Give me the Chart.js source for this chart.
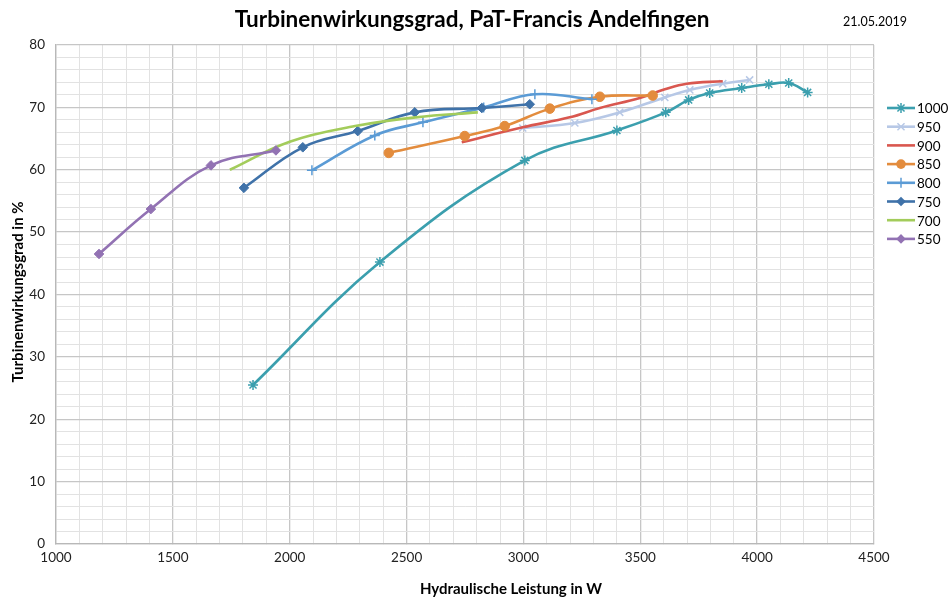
<!DOCTYPE html>
<html>
<head>
<meta charset="utf-8">
<script src="https://cdn.jsdelivr.net/npm/chart.js@4.4.1/dist/chart.umd.min.js"></script>
<style>
  html, body { margin: 0; padding: 0; background: #fff; }
  #wrap { width: 948px; height: 597px; position: relative; }
</style>
</head>
<body>
<div id="wrap"><canvas id="tsChart"></canvas></div>
<script>
// series labels (legend order)
const seriesNames = ["1000", "950", "900", "850", "800", "750", "700", "550"];

// Hydraulische Leistung (W) / Wirkungsgrad (%) per series
const p1000 = [1843, 2386, 3006, 3400, 3609, 3707, 3797, 3934, 4050, 4135, 4216];
const e1000 = [25.5, 45.2, 61.5, 66.3, 69.2, 71.2, 72.3, 73.1, 73.7, 73.9, 72.4];

const p950 = [2997, 3220, 3412, 3605, 3712, 3853, 3968];
const e950 = [66.7, 67.5, 69.2, 71.6, 72.8, 73.8, 74.4];

const p900 = [2736, 2997, 3198, 3327, 3498, 3605, 3699, 3853];
const e900 = [64.4, 66.8, 68.4, 69.9, 71.5, 72.9, 73.8, 74.2];

const p850 = [2424, 2749, 2920, 3113, 3327, 3553];
const e850 = [62.7, 65.4, 67.0, 69.8, 71.7, 71.9];

const p800 = [2095, 2364, 2570, 2830, 3049, 3293];
const e800 = [59.9, 65.5, 67.6, 70.0, 72.1, 71.3];

const p750 = [1804, 2056, 2291, 2535, 2822, 3027];
const e750 = [57.1, 63.6, 66.2, 69.2, 69.9, 70.5];

const p700 = [1744, 2000, 2280, 2540, 2805];
const e700 = [60.0, 64.5, 67.0, 68.4, 69.2];

const p550 = [1184, 1406, 1663, 1941];
const e550 = [46.5, 53.7, 60.7, 63.1];

const xTicks = [1000, 1500, 2000, 2500, 3000, 3500, 4000, 4500];
const yTicks = [0, 10, 20, 30, 40, 50, 60, 70, 80];

const powers = [p1000, p950, p900, p850, p800, p750, p700, p550];
const effs = [e1000, e950, e900, e850, e800, e750, e700, e550];

const colors = ["#3b9fae", "#b7c8e6", "#d9574f", "#e38c3d", "#5b9bd5", "#3f72a9", "#a3cc5b", "#9272b3"];
const markers = ["star", "crossRot", false, "circle", "cross", "rectRot", false, "rectRot"];
const markerSize = [5, 5, 0, 4.8, 5, 4.8, 0, 4.8];

const FONT = "Lato, 'Open Sans', sans-serif";

const datasets = seriesNames.map((name, i) => ({
  label: name,
  data: powers[i].map((x, k) => ({ x: x, y: effs[i][k] })),
  borderColor: colors[i],
  backgroundColor: colors[i],
  borderWidth: 2.6,
  tension: 0.4,
  pointStyle: markers[i],
  pointRadius: markerSize[i],
  pointBorderWidth: (markers[i] === "star" || markers[i] === "cross" || markers[i] === "crossRot") ? 1.5 : 1,
  pointBorderColor: colors[i],
  pointBackgroundColor: colors[i],
  order: seriesNames.length - i
}));

function drawMarker(c, style, r, x, y) {
  c.beginPath();
  if (style === "circle") {
    c.arc(x, y, r, 0, Math.PI * 2);
    c.fill();
  } else if (style === "rectRot") {
    c.moveTo(x, y - r); c.lineTo(x + r, y); c.lineTo(x, y + r); c.lineTo(x - r, y);
    c.closePath(); c.fill();
  } else if (style === "cross") {
    c.moveTo(x - r, y); c.lineTo(x + r, y); c.moveTo(x, y - r); c.lineTo(x, y + r); c.stroke();
  } else if (style === "crossRot") {
    const d = r * 0.707;
    c.moveTo(x - d, y - d); c.lineTo(x + d, y + d); c.moveTo(x + d, y - d); c.lineTo(x - d, y + d); c.stroke();
  } else if (style === "star") {
    const d = r * 0.707;
    c.moveTo(x - d, y - d); c.lineTo(x + d, y + d); c.moveTo(x + d, y - d); c.lineTo(x - d, y + d);
    c.moveTo(x, y - r); c.lineTo(x, y + r); c.stroke();
  }
}

// title, date, axis titles and the legend
const decor = {
  id: "decor",
  afterDraw(chart) {
    const c = chart.ctx;
    c.save();
    c.fillStyle = "#000";
    c.textBaseline = "middle";
    c.textAlign = "center";
    c.font = "bold 22.5px " + FONT;
    c.fillText("Turbinenwirkungsgrad, PaT-Francis Andelfingen", 472, 20);
    c.font = "12.5px " + FONT;
    c.fillText("21.05.2019", 875, 22);

    c.font = "bold 15px " + FONT;
    c.fillText("Hydraulische Leistung in W", 511, 589);
    c.save();
    c.translate(18, 292);
    c.rotate(-Math.PI / 2);
    c.fillText("Turbinenwirkungsgrad in %", 0, 0);
    c.restore();

    // legend
    c.textAlign = "left";
    c.font = "13.5px " + FONT;
    chart.data.datasets.forEach((ds, i) => {
      const y = 108 + i * 18.7;
      c.strokeStyle = ds.borderColor;
      c.lineWidth = 2.6;
      c.beginPath();
      c.moveTo(887, y);
      c.lineTo(915, y);
      c.stroke();
      if (ds.pointStyle) {
        c.fillStyle = ds.pointBackgroundColor;
        c.strokeStyle = ds.pointBorderColor;
        c.lineWidth = ds.pointBorderWidth;
        drawMarker(c, ds.pointStyle, ds.pointRadius, 901, y);
      }
      c.fillStyle = "#000";
      c.fillText(ds.label, 917, y + 1);
    });
    c.restore();
  }
};

const chart = new Chart(document.getElementById("tsChart"), {
  type: "line",
  data: { datasets },
  plugins: [decor],
  options: {
    responsive: true,
    maintainAspectRatio: false,
    animation: false,
    layout: { padding: { top: 45, right: 74, left: 0, bottom: 0 } },
    plugins: { legend: { display: false }, tooltip: { enabled: false } },
    scales: {
      x: {
        type: "linear",
        min: xTicks[0],
        max: xTicks[xTicks.length - 1],
        afterFit: s => { s.height = 53; },
        ticks: {
          stepSize: 100,
          autoSkip: false,
          maxRotation: 0,
          padding: 6,
          color: "#222",
          font: { family: FONT, size: 13.5 },
          callback: v => xTicks.includes(v) ? String(v) : ""
        },
        grid: {
          color: ctx => (ctx.tick && xTicks.includes(ctx.tick.value)) ? "#c6c6c6" : "#e2e2e2",
          lineWidth: ctx => (ctx.tick && xTicks.includes(ctx.tick.value)) ? 1.3 : 1,
          tickLength: 0
        },
        border: { color: "#b8b8b8", width: 1.3 }
      },
      y: {
        min: yTicks[0],
        max: yTicks[yTicks.length - 1],
        afterFit: s => { s.width = 56; },
        ticks: {
          stepSize: 2,
          autoSkip: false,
          padding: 11,
          color: "#222",
          font: { family: FONT, size: 13.5 },
          callback: v => yTicks.includes(v) ? String(v) : ""
        },
        grid: {
          color: ctx => (ctx.tick && yTicks.includes(ctx.tick.value)) ? "#c6c6c6" : "#e2e2e2",
          lineWidth: ctx => (ctx.tick && yTicks.includes(ctx.tick.value)) ? 1.3 : 1,
          tickLength: 0
        },
        border: { color: "#b8b8b8", width: 1.3 }
      }
    }
  }
});
</script>
</body>
</html>
